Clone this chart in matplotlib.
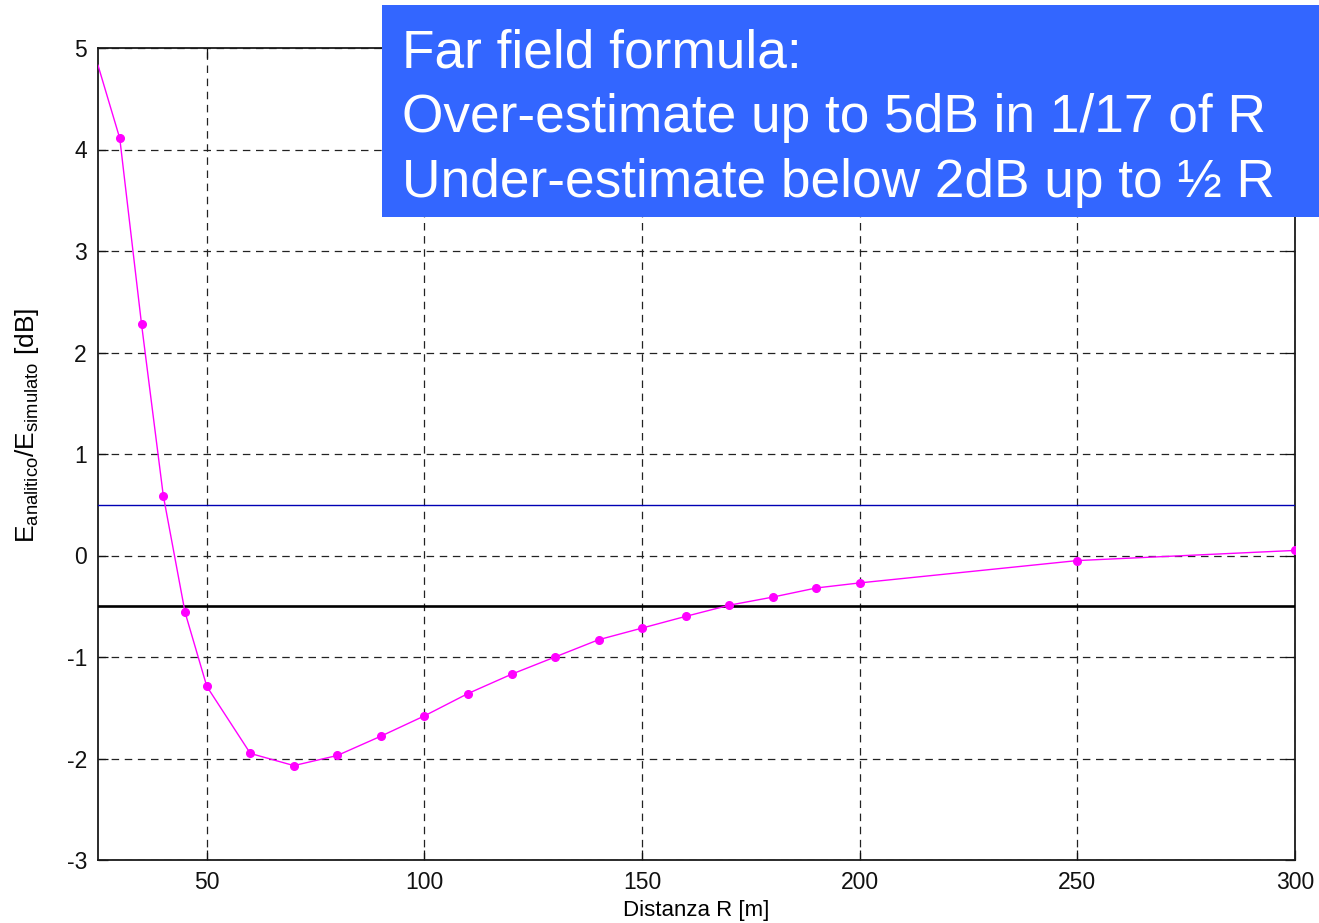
import matplotlib
matplotlib.use("Agg")
import matplotlib.pyplot as plt
from matplotlib.patches import Rectangle
from matplotlib import font_manager

# Distance from the antenna [m] and field ratio analytic/simulated [dB]
distanza = [25, 30, 35, 40, 45, 50, 60, 70, 80, 90, 100, 110, 120, 130, 140,
            150, 160, 170, 180, 190, 200, 250, 300]
rapporto_db = [4.83, 4.11, 2.28, 0.59, -0.56, -1.29, -1.95, -2.07, -1.97, -1.78,
               -1.58, -1.36, -1.17, -1.00, -0.83, -0.715, -0.60, -0.49, -0.41,
               -0.32, -0.27, -0.05, 0.05]

x_ticks = [50, 100, 150, 200, 250, 300]
y_ticks = [-3, -2, -1, 0, 1, 2, 3, 4, 5]
soglia_sup = 0.5
soglia_inf = -0.5

note_lines = ["Far field formula:",
              "Over-estimate up to 5dB in 1/17 of R",
              "Under-estimate below 2dB up to \u00bd R"]

available = {f.name for f in font_manager.fontManager.ttflist}
base_font = "Liberation Sans" if "Liberation Sans" in available else "DejaVu Sans"
plt.rcParams["font.family"] = [base_font, "DejaVu Sans"]
plt.rcParams["mathtext.fontset"] = "custom"
plt.rcParams["mathtext.rm"] = base_font
plt.rcParams["mathtext.it"] = base_font
plt.rcParams["axes.unicode_minus"] = False

W, H = 1319, 923
fig = plt.figure(figsize=(W / 100, H / 100), dpi=100)
ax = fig.add_axes([98 / W, 1 - 860 / H, (1295 - 98) / W, (860 - 48) / H])

ax.plot(distanza, rapporto_db, color="#ff00ff", lw=1.0, marker="o", ms=5.5,
        markevery=slice(1, None), zorder=4)
ax.axhline(soglia_sup, color="#0000b4", lw=1.0, zorder=3)
ax.axhline(soglia_inf, color="black", lw=1.9, zorder=3)

ax.set_xlim(25, 300)
ax.set_ylim(-3, 5)
ax.set_xticks(x_ticks)
ax.set_yticks(y_ticks)
ax.grid(True, color="#222222", linestyle=(0, (6, 4.5)), lw=0.9)
ax.tick_params(direction="in", top=True, right=True, length=7, width=0.9,
               labelsize=16.5, pad=8, colors="#111111")
for s in ax.spines.values():
    s.set_linewidth(1.3)
    s.set_color("#1a1a1a")

ax.set_xlabel("Distanza R [m]", fontsize=16, labelpad=4)
ax.set_ylabel(r"$\mathregular{E_{analitico}/E_{simulato}}$ [dB]", fontsize=19)
ax.yaxis.set_label_coords(-0.048, 0.535)

# Annotation box in the upper right
fig.patches.append(Rectangle((382 / W, 1 - 217 / H), 1.0, 212 / H,
                             transform=fig.transFigure, facecolor="#3366ff",
                             edgecolor="none", zorder=10))
baselines = [67, 132, 197]
for line, yb in zip(note_lines, baselines):
    fig.text(402 / W, 1 - yb / H, line, color="white", fontsize=38.3,
             va="baseline", ha="left", zorder=11)

fig.savefig("out.png", dpi=100)
